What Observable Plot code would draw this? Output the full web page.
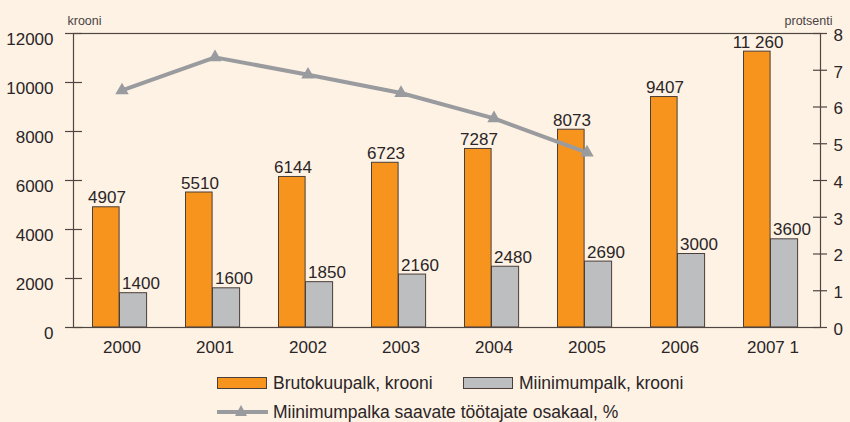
<!DOCTYPE html>
<html>
<head>
<meta charset="utf-8">
<script src="https://cdn.jsdelivr.net/npm/d3@7"></script>
<script src="https://cdn.jsdelivr.net/npm/@observablehq/plot@0.6"></script>
<style>
  html, body { margin: 0; padding: 0; background: #fdf2e4; }
  #wrap { position: relative; width: 850px; height: 422px; background: #fdf2e4; overflow: hidden;
          font-family: "Liberation Sans", Arial, sans-serif; color: #2b2527; }
  #chart { position: absolute; left: 0; top: 0; }
  .lg { position: absolute; font-size: 17.5px; line-height: 20px; white-space: nowrap; }
  .sw { position: absolute; width: 50px; height: 12px; box-sizing: border-box; border: 1px solid #4a3f3a; }
</style>
</head>
<body>
<div id="wrap">
  <div id="chart"></div>
  <div class="sw" style="left:217px; top:377px; background:#f7941d;"></div>
  <div class="lg" style="left:273px; top:373px;">Brutokuupalk, krooni</div>
  <div class="sw" style="left:463px; top:377px; background:#bcbec0;"></div>
  <div class="lg" style="left:519px; top:373px;">Miinimumpalk, krooni</div>
  <svg style="position:absolute; left:215px; top:403px;" width="56" height="18">
    <line x1="2" x2="53" y1="9" y2="9" stroke="#999b9e" stroke-width="4"></line>
    <path d="M26,2 L32,13 L20,13 Z" fill="#999b9e"></path>
  </svg>
  <div class="lg" style="left:273px; top:402px;">Miinimumpalka saavate töötajate osakaal, %</div>
</div>
<script>
// ---- data ----
const years = ["2000", "2001", "2002", "2003", "2004", "2005", "2006", "2007 1"];
const gross = [4907, 5510, 6144, 6723, 7287, 8073, 9407, 11260];
const minimum = [1400, 1600, 1850, 2160, 2480, 2690, 3000, 3600];
const shareYears = ["2000", "2001", "2002", "2003", "2004", "2005"];
const share = [6.45, 7.35, 6.88, 6.38, 5.69, 4.76];
const leftTicks = [0, 2000, 4000, 6000, 8000, 10000, 12000];
const rightTicks = [0, 1, 2, 3, 4, 5, 6, 7, 8];
const ratio = 12000 / 8; // right axis (percent) mapped onto krooni scale

const rows = years.map((y, i) => ({year: y, gross: gross[i], minimum: minimum[i]}));
const lineRows = shareYears.map((y, i) => ({year: y, share: share[i]}));
const fmt = v => v >= 10000 ? d3.format(",")(v).replace(",", " ") : String(v);

const axisColor = "#4f4542";
const textColor = "#2b2527";
const frameW = 850 - 73 - 30;

const chart = Plot.plot({
  width: 850,
  height: 365,
  marginLeft: 73,
  marginRight: 30,
  marginTop: 33,
  marginBottom: 38,
  style: {background: "transparent", fontFamily: "'Liberation Sans', Arial, sans-serif", color: textColor},
  x: {domain: years, padding: 0},
  y: {domain: [0, 12000]},
  marks: [
    Plot.barY(rows, {x: "year", y: "gross", fill: "#f7941d", stroke: "#4a3f3a", strokeWidth: 1, insetLeft: 17.5, insetRight: 48.9}),
    Plot.barY(rows, {x: "year", y: "minimum", fill: "#bcbec0", stroke: "#4a3f3a", strokeWidth: 1, insetLeft: 44.5, insetRight: 21.4}),
    Plot.text(rows, {x: "year", y: "gross", text: d => fmt(d.gross), dx: -15, dy: -4, lineAnchor: "bottom", fontSize: 17, fill: textColor}),
    Plot.text(rows, {x: "year", y: "minimum", text: d => fmt(d.minimum), dx: 19, dy: -4, lineAnchor: "bottom", fontSize: 17, fill: textColor}),
    Plot.frame({stroke: axisColor, strokeWidth: 1.2}),
    // left ticks crossing the axis
    Plot.ruleY(leftTicks, {y: d => d, stroke: axisColor, strokeWidth: 1.2, insetLeft: -8, insetRight: frameW - 9}),
    // right ticks crossing the axis
    Plot.ruleY(rightTicks, {y: d => d * ratio, stroke: axisColor, strokeWidth: 1.2, insetLeft: frameW - 7, insetRight: -7}),
    Plot.axisY(leftTicks, {anchor: "left", tickSize: 0, tickPadding: 20, dy: 6, fontSize: 17, tickFormat: d => String(d), label: null, fill: textColor}),
    Plot.axisY(rightTicks.map(v => v * ratio), {anchor: "right", tickSize: 0, tickPadding: 13, dy: 2, fontSize: 17, tickFormat: d => String(d / ratio), label: null, fill: textColor}),
    Plot.axisX({anchor: "bottom", tickSize: 0, tickPadding: 13, fontSize: 17, label: null, fill: textColor}),
    Plot.line(lineRows, {x: "year", y: d => d.share * ratio, stroke: "#999b9e", strokeWidth: 4}),
    Plot.dot(lineRows, {x: "year", y: d => d.share * ratio, symbol: "triangle", r: 5, fill: "#999b9e"}),
    Plot.text(["krooni"], {frameAnchor: "top-left", text: d => d, textAnchor: "start", dx: -6, dy: -17, fontSize: 12.5, fill: "#4a4244"}),
    Plot.text(["protsenti"], {frameAnchor: "top-right", text: d => d, textAnchor: "end", dx: 12, dy: -17, fontSize: 12.5, fill: "#4a4244"})
  ]
});
document.getElementById("chart").appendChild(chart);
</script>
</body>
</html>
